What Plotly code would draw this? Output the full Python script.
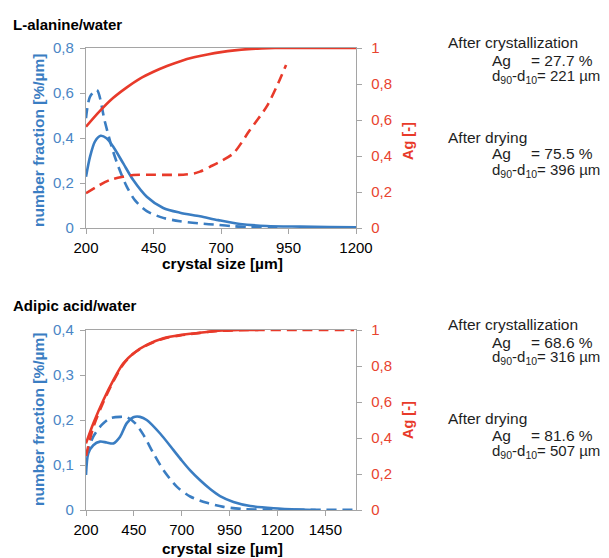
import plotly.graph_objects as go

# page body adds an 8px offset; figure is sized so the visible 609x558 view matches
OFF = 8
W, H = 609 - OFF, 558 - OFF

# ---------------- data: L-alanine/water ----------------
ala_nf_solid_x = [200, 215, 233, 254, 276, 301, 338, 375, 425, 486, 548, 622, 690, 770, 869, 993, 1100, 1200]
ala_nf_solid_y = [0.228, 0.317, 0.384, 0.41, 0.399, 0.361, 0.287, 0.213, 0.139, 0.089, 0.068, 0.052, 0.035, 0.018, 0.009, 0.006, 0.004, 0.003]
ala_nf_dash_x = [200, 215, 240, 270, 295, 320, 351, 381, 425, 486, 548, 622, 690, 745, 800, 880, 920]
ala_nf_dash_y = [0.488, 0.584, 0.613, 0.472, 0.361, 0.272, 0.184, 0.124, 0.075, 0.045, 0.03, 0.02, 0.014, 0.008, 0.004, 0.002, 0.002]
ala_ag_solid_x = [200, 250, 300, 350, 400, 450, 500, 550, 600, 650, 700, 750, 800, 850, 900, 1000, 1100, 1200]
ala_ag_solid_y = [0.563, 0.648, 0.722, 0.78, 0.83, 0.868, 0.9, 0.927, 0.948, 0.964, 0.977, 0.987, 0.994, 0.998, 1.0, 1.0, 1.0, 1.0]
ala_ag_dash_x = [200, 240, 289, 338, 375, 437, 500, 560, 600, 622, 659, 696, 746, 807, 869, 906, 941]
ala_ag_dash_y = [0.193, 0.23, 0.267, 0.285, 0.294, 0.296, 0.295, 0.296, 0.303, 0.313, 0.34, 0.368, 0.415, 0.544, 0.674, 0.785, 0.906]

# ---------------- data: Adipic acid/water ----------------
adi_nf_solid_x = [200, 212, 238, 273, 308, 343, 378, 413, 447, 482, 517, 587, 657, 700, 744, 796, 850, 900, 970, 1058, 1180, 1319, 1400]
adi_nf_solid_y = [0.078, 0.126, 0.144, 0.152, 0.15, 0.148, 0.163, 0.193, 0.206, 0.207, 0.2, 0.17, 0.133, 0.11, 0.088, 0.066, 0.046, 0.031, 0.018, 0.009, 0.004, 0.001, 0.0]
adi_nf_dash_x = [200, 238, 282, 326, 378, 413, 456, 500, 552, 604, 674, 744, 831, 918, 1023, 1150, 1300, 1450, 1600]
adi_nf_dash_y = [0.12, 0.163, 0.189, 0.204, 0.207, 0.206, 0.193, 0.167, 0.126, 0.089, 0.052, 0.030, 0.016, 0.007, 0.002, 0.001, 0.0005, 0.0005, 0.0005]
adi_ag_solid_x = [200, 238, 291, 343, 395, 447, 517, 604, 692, 796, 892, 1000, 1100]
adi_ag_solid_y = [0.37, 0.48, 0.611, 0.722, 0.815, 0.87, 0.917, 0.954, 0.972, 0.985, 0.996, 1.0, 1.0]
adi_ag_dash_x = [200, 238, 291, 343, 395, 447, 517, 604, 692, 796, 892, 1000, 1100, 1300, 1600]
adi_ag_dash_y = [0.3, 0.46, 0.6, 0.715, 0.81, 0.868, 0.915, 0.952, 0.97, 0.984, 0.995, 0.999, 1.0, 1.0, 1.0]

# ---------------- ticks ----------------
top_x_ticks = [200, 450, 700, 950, 1200]
bot_x_ticks = [200, 450, 700, 950, 1200, 1450]
top_left_ticks = [0, 0.2, 0.4, 0.6, 0.8]
top_left_text = ["0", "0,2", "0,4", "0,6", "0,8"]
bot_left_ticks = [0, 0.1, 0.2, 0.3, 0.4]
bot_left_text = ["0", "0,1", "0,2", "0,3", "0,4"]
right_ticks = [0, 0.2, 0.4, 0.6, 0.8, 1.0]
right_text = ["0", "0,2", "0,4", "0,6", "0,8", "1"]

top_info = ["After crystallization", "27.7", "221", "After drying", "75.5", "396"]
bot_info = ["After crystallization", "68.6", "316", "After drying", "81.6", "507"]

BLUE = "rgb(58,125,194)"
RED = "rgb(232,58,42)"
BLUE_T = "rgb(74,134,197)"
RED_T = "rgb(232,67,47)"
GRAY = "rgb(165,165,165)"
FONT = "Liberation Sans, Arial, sans-serif"
DASH = "10px,6px"
LW = 2.6

fig = go.Figure()

def add(x, y, xa, ya, color, dash):
    fig.add_trace(go.Scatter(x=x, y=y, xaxis=xa, yaxis=ya, mode="lines",
                             line=dict(color=color, width=LW, dash=dash, shape="spline", smoothing=0.8),
                             showlegend=False, hoverinfo="skip"))

add(ala_ag_solid_x, ala_ag_solid_y, "x", "y2", RED, "solid")
add(ala_ag_dash_x, ala_ag_dash_y, "x", "y2", RED, DASH)
add(ala_nf_solid_x, ala_nf_solid_y, "x", "y", BLUE, "solid")
add(ala_nf_dash_x, ala_nf_dash_y, "x", "y", BLUE, DASH)

add(adi_ag_dash_x, adi_ag_dash_y, "x2", "y4", RED, DASH)
add(adi_ag_solid_x, adi_ag_solid_y, "x2", "y4", RED, "solid")
add(adi_nf_solid_x, adi_nf_solid_y, "x2", "y3", BLUE, "solid")
add(adi_nf_dash_x, adi_nf_dash_y, "x2", "y3", BLUE, DASH)

def px(x):
    return (x - OFF) / W

def py(y):
    return 1 - (y - OFF) / H

xdom = [px(86), px(356)]
top_dom = [py(228), py(48)]
bot_dom = [py(510), py(330)]

tickf = dict(family=FONT, size=15)
common_x = dict(showline=True, linecolor=GRAY, linewidth=1.3, mirror=True, ticks="outside",
                ticklen=5, tickcolor=GRAY, showgrid=False, zeroline=False, automargin=False,
                tickfont=dict(tickf, color="black"), ticklabelstandoff=1)
common_yl = dict(showline=True, linecolor=GRAY, linewidth=1.3, ticks="outside", ticklen=5,
                 tickcolor=GRAY, showgrid=False, zeroline=False, automargin=False,
                 tickfont=dict(tickf, color=BLUE_T), ticklabelstandoff=3)
common_yr = dict(showline=True, linecolor=GRAY, linewidth=1.3, ticks="outside", ticklen=5,
                 tickcolor=GRAY, showgrid=False, zeroline=False, side="right", automargin=False,
                 tickfont=dict(tickf, color=RED_T), ticklabelstandoff=6,
                 range=[0, 1], tickvals=right_ticks, ticktext=right_text)

fig.update_layout(
    width=W, height=H, autosize=False,
    margin=dict(l=0, r=0, t=0, b=0, pad=0, autoexpand=False),
    paper_bgcolor="white", plot_bgcolor="white", showlegend=False,
    xaxis=dict(common_x, domain=xdom, anchor="y", range=[200, 1200],
               tickvals=top_x_ticks, ticktext=[str(v) for v in top_x_ticks]),
    yaxis=dict(common_yl, domain=top_dom, anchor="x", range=[0, 0.8],
               tickvals=top_left_ticks, ticktext=top_left_text),
    yaxis2=dict(common_yr, overlaying="y", anchor="x"),
    xaxis2=dict(common_x, domain=xdom, anchor="y3", range=[200, 1610],
                tickvals=bot_x_ticks, ticktext=[str(v) for v in bot_x_ticks]),
    yaxis3=dict(common_yl, domain=bot_dom, anchor="x2", range=[0, 0.4],
                tickvals=bot_left_ticks, ticktext=bot_left_text),
    yaxis4=dict(common_yr, overlaying="y3", anchor="x2"),
)

ann = []

def text(x, y, s, size=15, color="rgb(30,30,30)", bold=False, angle=0, xanchor="left"):
    if bold:
        s = "<b>" + s + "</b>"
    ann.append(dict(x=px(x), y=py(y), xref="paper", yref="paper", text=s, showarrow=False,
                    xanchor=xanchor, yanchor="middle", textangle=angle, borderpad=0,
                    font=dict(family=FONT, size=size, color=color)))

# panel titles
text(12, 25, "L-alanine/water", size=15, color="black", bold=True)
text(12, 305, "Adipic acid/water", size=15, color="black", bold=True)

# axis titles
for cy, xy in [(141, 263), (420, 548)]:
    text(38, cy, "number fraction [%/µm]", size=15.5, color=BLUE, bold=True, angle=-90, xanchor="center")
    text(408, cy, "Ag [-]", size=14.5, color=RED, bold=True, angle=-90, xanchor="center")
    text(222, xy, "crystal size [µm]", size=15.5, color="black", bold=True, xanchor="center")

# side info blocks
def info(vals, y0):
    ys = [y0, y0 + 18, y0 + 33, y0 + 94, y0 + 111, y0 + 127]
    text(447, ys[0], vals[0], size=15.5)
    text(491, ys[1], "Ag", size=15.5)
    text(530, ys[1], "= " + vals[1] + " %", size=15.5)
    text(491, ys[2], "d<sub>90</sub>-d<sub>10</sub>= " + vals[2] + " µm", size=15)
    text(447, ys[3], vals[3], size=15.5)
    text(491, ys[4], "Ag", size=15.5)
    text(530, ys[4], "= " + vals[4] + " %", size=15.5)
    text(491, ys[5], "d<sub>90</sub>-d<sub>10</sub>= " + vals[5] + " µm", size=15)

info(top_info, 43)
info(bot_info, 324)

fig.update_layout(annotations=ann)
fig.write_html("out.html")
